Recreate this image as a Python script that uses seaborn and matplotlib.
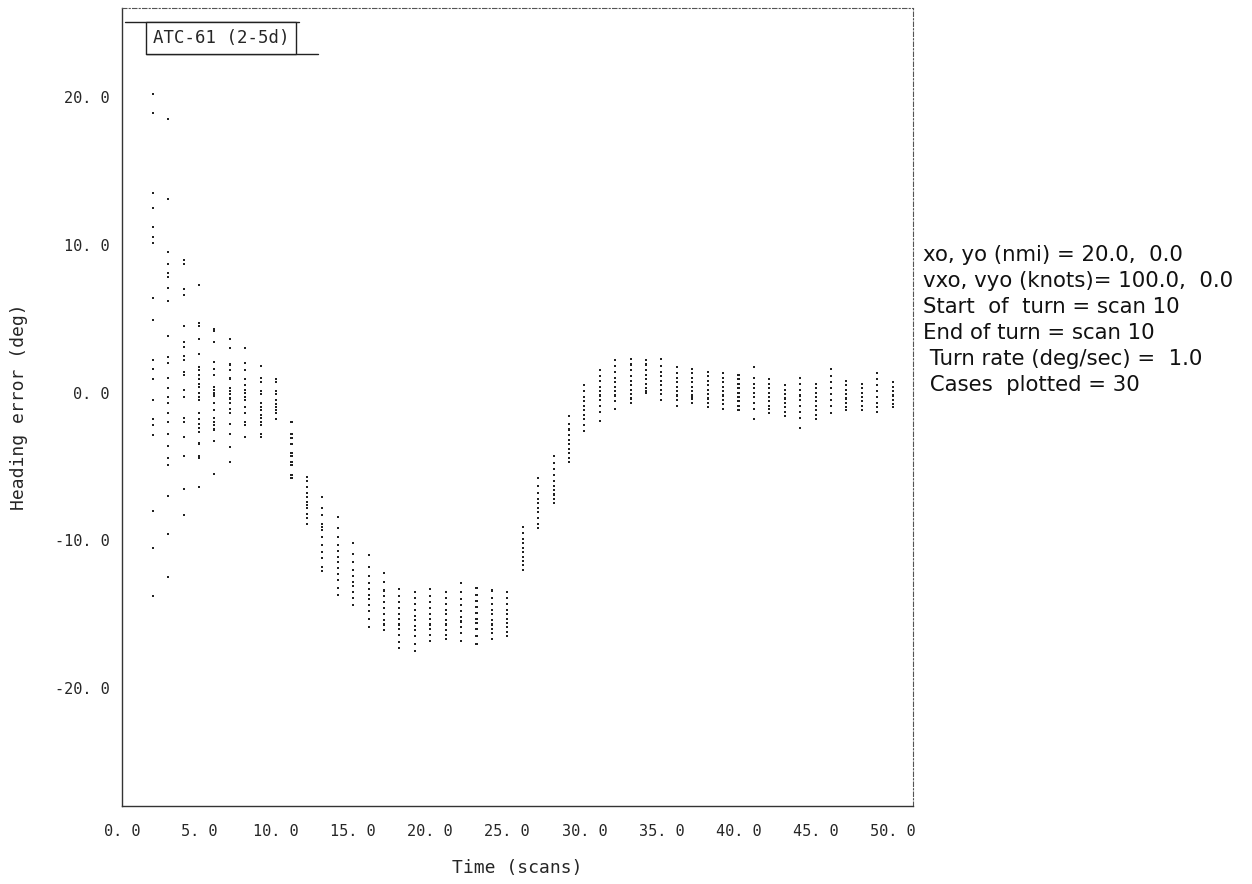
import matplotlib
matplotlib.use("Agg")
import matplotlib.pyplot as plt
from matplotlib.lines import Line2D
import seaborn as sns
import pandas as pd

# ---- data: heading error (deg) of the plotted cases at each scan ----
s02 = [20.2, 18.9, 13.5, 12.5, 11.2, 10.5, 10.1, 6.4, 4.9, 2.2, 1.6, 0.9, -0.5, -1.8, -2.2, -2.9, -8.0, -10.5, -13.8]
s03 = [18.5, 13.1, 9.5, 8.7, 8.1, 7.8, 7.1, 6.2, 3.8, 2.4, 2.0, 1.0, 0.3, -0.3, -0.7, -1.4, -2.0, -2.8, -3.6, -4.4, -4.9, -7.0, -9.6, -12.5]
s04 = [9.0, 8.7, 7.0, 6.6, 4.5, 3.4, 3.1, 2.5, 2.2, 1.4, 1.2, 0.2, -0.3, -1.7, -2.0, -3.0, -4.3, -6.5, -8.3]
s05 = [7.3, 4.7, 4.5, 3.6, 2.6, 1.7, 1.5, 1.2, 0.9, 0.6, 0.4, 0.0, -0.3, -0.5, -1.4, -1.8, -2.1, -2.4, -2.7, -3.4, -3.5, -4.3, -4.4, -6.4]
s06 = [4.3, 4.2, 3.4, 2.1, 1.6, 1.2, 0.4, 0.2, 0.0, -0.2, -0.7, -1.2, -1.7, -2.0, -2.2, -2.5, -3.3, -5.5]
s07 = [3.6, 3.0, 1.9, 1.5, 1.0, 0.9, 0.3, 0.1, -0.1, -0.4, -0.7, -1.1, -1.4, -2.1, -2.8, -3.7, -4.7]
s08 = [3.0, 2.0, 1.5, 0.9, 0.5, 0.2, 0.0, -0.3, -0.5, -1.0, -1.4, -2.0, -2.2, -3.0]
s09 = [1.8, 1.0, 0.7, 0.1, -0.1, -0.7, -1.0, -1.2, -1.5, -1.7, -2.0, -2.2, -2.8, -3.0]
s10 = [0.9, 0.7, 0.1, -0.1, -0.5, -0.8, -1.0, -1.2, -1.4, -1.8]
s11 = [-2.0, -2.8, -3.1, -3.5, -4.1, -4.3, -4.7, -4.9, -5.6, -5.8]
s12 = [-5.7, -6.0, -6.4, -6.8, -7.1, -7.4, -7.6, -7.8, -8.2, -8.5, -8.9]
s13 = [-7.1, -7.8, -8.3, -8.9, -9.1, -9.3, -9.8, -10.3, -10.8, -11.2, -11.8, -12.1]
s14 = [-8.4, -9.2, -9.8, -10.3, -10.7, -11.1, -11.5, -11.9, -12.3, -12.7, -13.2, -13.7]
s15 = [-10.2, -10.9, -11.5, -12.0, -12.4, -12.8, -13.1, -13.5, -13.9, -14.4]
s16 = [-11.0, -11.8, -12.4, -12.9, -13.3, -13.7, -14.0, -14.4, -14.8, -15.3, -15.9]
s17 = [-12.2, -12.8, -13.4, -13.8, -14.2, -14.6, -15.0, -15.4, -15.7, -16.1]
s18 = [-13.3, -13.8, -14.2, -14.6, -15.0, -15.3, -15.7, -16.0, -16.4, -16.9, -17.3]
s19 = [-13.5, -13.9, -14.3, -14.7, -15.1, -15.4, -15.8, -16.1, -16.5, -17.0, -17.5]
s20 = [-13.3, -13.8, -14.2, -14.6, -15.0, -15.3, -15.7, -16.0, -16.4, -16.8]
s21 = [-13.5, -13.9, -14.3, -14.7, -15.0, -15.4, -15.7, -16.1, -16.4, -16.7]
s22 = [-12.9, -13.5, -14.0, -14.4, -14.8, -15.2, -15.5, -15.9, -16.3, -16.8]
s23 = [-13.2, -13.7, -14.1, -14.5, -14.9, -15.3, -15.6, -16.0, -16.5, -17.0]
s24 = [-13.4, -13.9, -14.3, -14.7, -15.0, -15.4, -15.7, -16.0, -16.3, -16.7]
s25 = [-13.5, -13.9, -14.3, -14.7, -15.0, -15.3, -15.6, -15.9, -16.2, -16.5]
s26 = [-9.1, -9.5, -9.9, -10.2, -10.5, -10.8, -11.1, -11.4, -11.7, -12.0]
s27 = [-5.8, -6.3, -6.8, -7.2, -7.5, -7.8, -8.1, -8.5, -8.9, -9.2]
s28 = [-4.3, -4.8, -5.2, -5.6, -6.0, -6.3, -6.6, -6.9, -7.2, -7.5]
s29 = [-1.6, -2.1, -2.5, -2.9, -3.2, -3.5, -3.8, -4.1, -4.4, -4.7]
s30 = [0.5, 0.1, -0.3, -0.6, -0.9, -1.2, -1.5, -1.8, -2.2, -2.6]
s31 = [1.5, 1.1, 0.8, 0.4, 0.1, -0.2, -0.5, -0.9, -1.3, -1.9]
s32 = [2.2, 1.8, 1.4, 1.0, 0.7, 0.4, 0.1, -0.2, -0.6, -1.1]
s33 = [2.3, 1.9, 1.5, 1.1, 0.8, 0.5, 0.2, -0.1, -0.4, -0.7]
s34 = [2.2, 1.9, 1.5, 1.2, 0.9, 0.6, 0.3, 0.1, -0.0]
s35 = [2.3, 1.8, 1.4, 1.1, 0.8, 0.5, 0.2, -0.1, -0.5]
s36 = [1.7, 1.3, 1.0, 0.7, 0.4, 0.1, -0.2, -0.5, -0.9]
s37 = [1.6, 1.3, 1.0, 0.7, 0.4, 0.1, -0.2, -0.4, -0.7]
s38 = [1.4, 1.1, 0.8, 0.5, 0.2, -0.1, -0.4, -0.7, -1.0]
s39 = [1.3, 1.0, 0.7, 0.4, 0.1, -0.2, -0.5, -0.8, -1.1]
s40 = [1.2, 0.9, 0.6, 0.3, 0.0, -0.3, -0.6, -0.9, -1.2]
s41 = [1.7, 1.0, 0.6, 0.3, 0.0, -0.3, -0.7, -1.1, -1.8]
s42 = [0.9, 0.6, 0.3, 0.0, -0.3, -0.6, -0.9, -1.1, -1.4]
s43 = [0.5, 0.2, -0.1, -0.4, -0.7, -1.0, -1.3, -1.6]
s44 = [1.0, 0.6, 0.2, -0.2, -0.5, -0.9, -1.3, -1.7, -2.4]
s45 = [0.6, 0.3, 0.0, -0.3, -0.6, -0.9, -1.2, -1.5, -1.8]
s46 = [1.6, 1.1, 0.7, 0.3, -0.1, -0.5, -0.9, -1.4]
s47 = [0.8, 0.5, 0.2, -0.1, -0.4, -0.7, -1.0, -1.2]
s48 = [0.6, 0.3, 0.0, -0.3, -0.6, -0.9, -1.2]
s49 = [1.3, 0.9, 0.5, 0.1, -0.3, -0.7, -1.0, -1.3]
s50 = [0.7, 0.4, 0.1, -0.2, -0.5, -0.8, -1.0]

columns = [s02, s03, s04, s05, s06, s07, s08, s09, s10, s11, s12, s13, s14, s15,
           s16, s17, s18, s19, s20, s21, s22, s23, s24, s25, s26, s27, s28, s29,
           s30, s31, s32, s33, s34, s35, s36, s37, s38, s39, s40, s41, s42, s43,
           s44, s45, s46, s47, s48, s49, s50]
scans = list(range(2, 51))

x_ticks = [0, 5, 10, 15, 20, 25, 30, 35, 40, 45, 50]
x_tick_labels = ["0. 0", "5. 0", "10. 0", "15. 0", "20. 0", "25. 0", "30. 0",
                 "35. 0", "40. 0", "45. 0", "50. 0"]
y_ticks = [20, 10, 0, -10, -20]
y_tick_labels = ["20. 0", "10. 0", "0. 0", "-10. 0", "-20. 0"]

info_lines = ["xo, yo (nmi) = 20.0,  0.0",
              "vxo, vyo (knots)= 100.0,  0.0",
              "Start  of  turn = scan 10",
              "End of turn = scan 10",
              " Turn rate (deg/sec) =  1.0",
              " Cases  plotted = 30"]

rows = []
for sc, vals in zip(scans, columns):
    for v in vals:
        rows.append({"scan": sc, "err": v})
df = pd.DataFrame(rows)

sns.set_theme(style="white")
mono = "DejaVu Sans Mono"

fig = plt.figure(figsize=(12.52, 8.84), dpi=100)
ax = fig.add_axes([0.0974, 0.0882, 0.6316, 0.9027])

sns.scatterplot(data=df, x="scan", y="err", ax=ax, marker="s", s=2.2,
                color="#222222", edgecolor="none", linewidth=0, legend=False)

ax.set_xlim(0, 51.3)
ax.set_ylim(-27.99, 26.03)
ax.set_xticks(x_ticks)
ax.set_xticklabels(x_tick_labels, fontfamily=mono, fontsize=11)
ax.set_yticks(y_ticks)
ax.set_yticklabels(y_tick_labels, fontfamily=mono, fontsize=11)
ax.tick_params(axis="both", direction="in", length=10, width=0.9, color="#333333")
ax.tick_params(axis="x", pad=13)
ax.tick_params(axis="y", pad=9)

ax.set_xlabel("Time (scans)", fontfamily=mono, fontsize=13, labelpad=14)
ax.set_ylabel("Heading error (deg)", fontfamily=mono, fontsize=13, labelpad=19)

for side in ["left", "bottom"]:
    ax.spines[side].set_color("#333333")
    ax.spines[side].set_linewidth(1.0)
for side in ["top", "right"]:
    ax.spines[side].set_color("#555555")
    ax.spines[side].set_linewidth(0.8)
    ax.spines[side].set_linestyle((0, (4, 2, 1, 2)))

ax.text(0.039, 0.974, "ATC-61 (2-5d)", transform=ax.transAxes, ha="left", va="top",
        fontfamily=mono, fontsize=12.5,
        bbox=dict(boxstyle="square,pad=0.4", facecolor="white", edgecolor="#222222",
                  linewidth=1.0))
# paste-up rules around the label box
ax.add_line(Line2D([0.004, 0.224], [0.9825, 0.9825], transform=ax.transAxes,
                   color="#222222", linewidth=1.0))
ax.add_line(Line2D([0.030, 0.248], [0.9424, 0.9424], transform=ax.transAxes,
                   color="#222222", linewidth=1.0))

fig.text(0.737, 0.7225, "\n".join(info_lines), ha="left", va="top",
         fontfamily="DejaVu Sans", fontsize=15.3, linespacing=1.37, color="#111111")

fig.savefig("out.png", dpi=100)
